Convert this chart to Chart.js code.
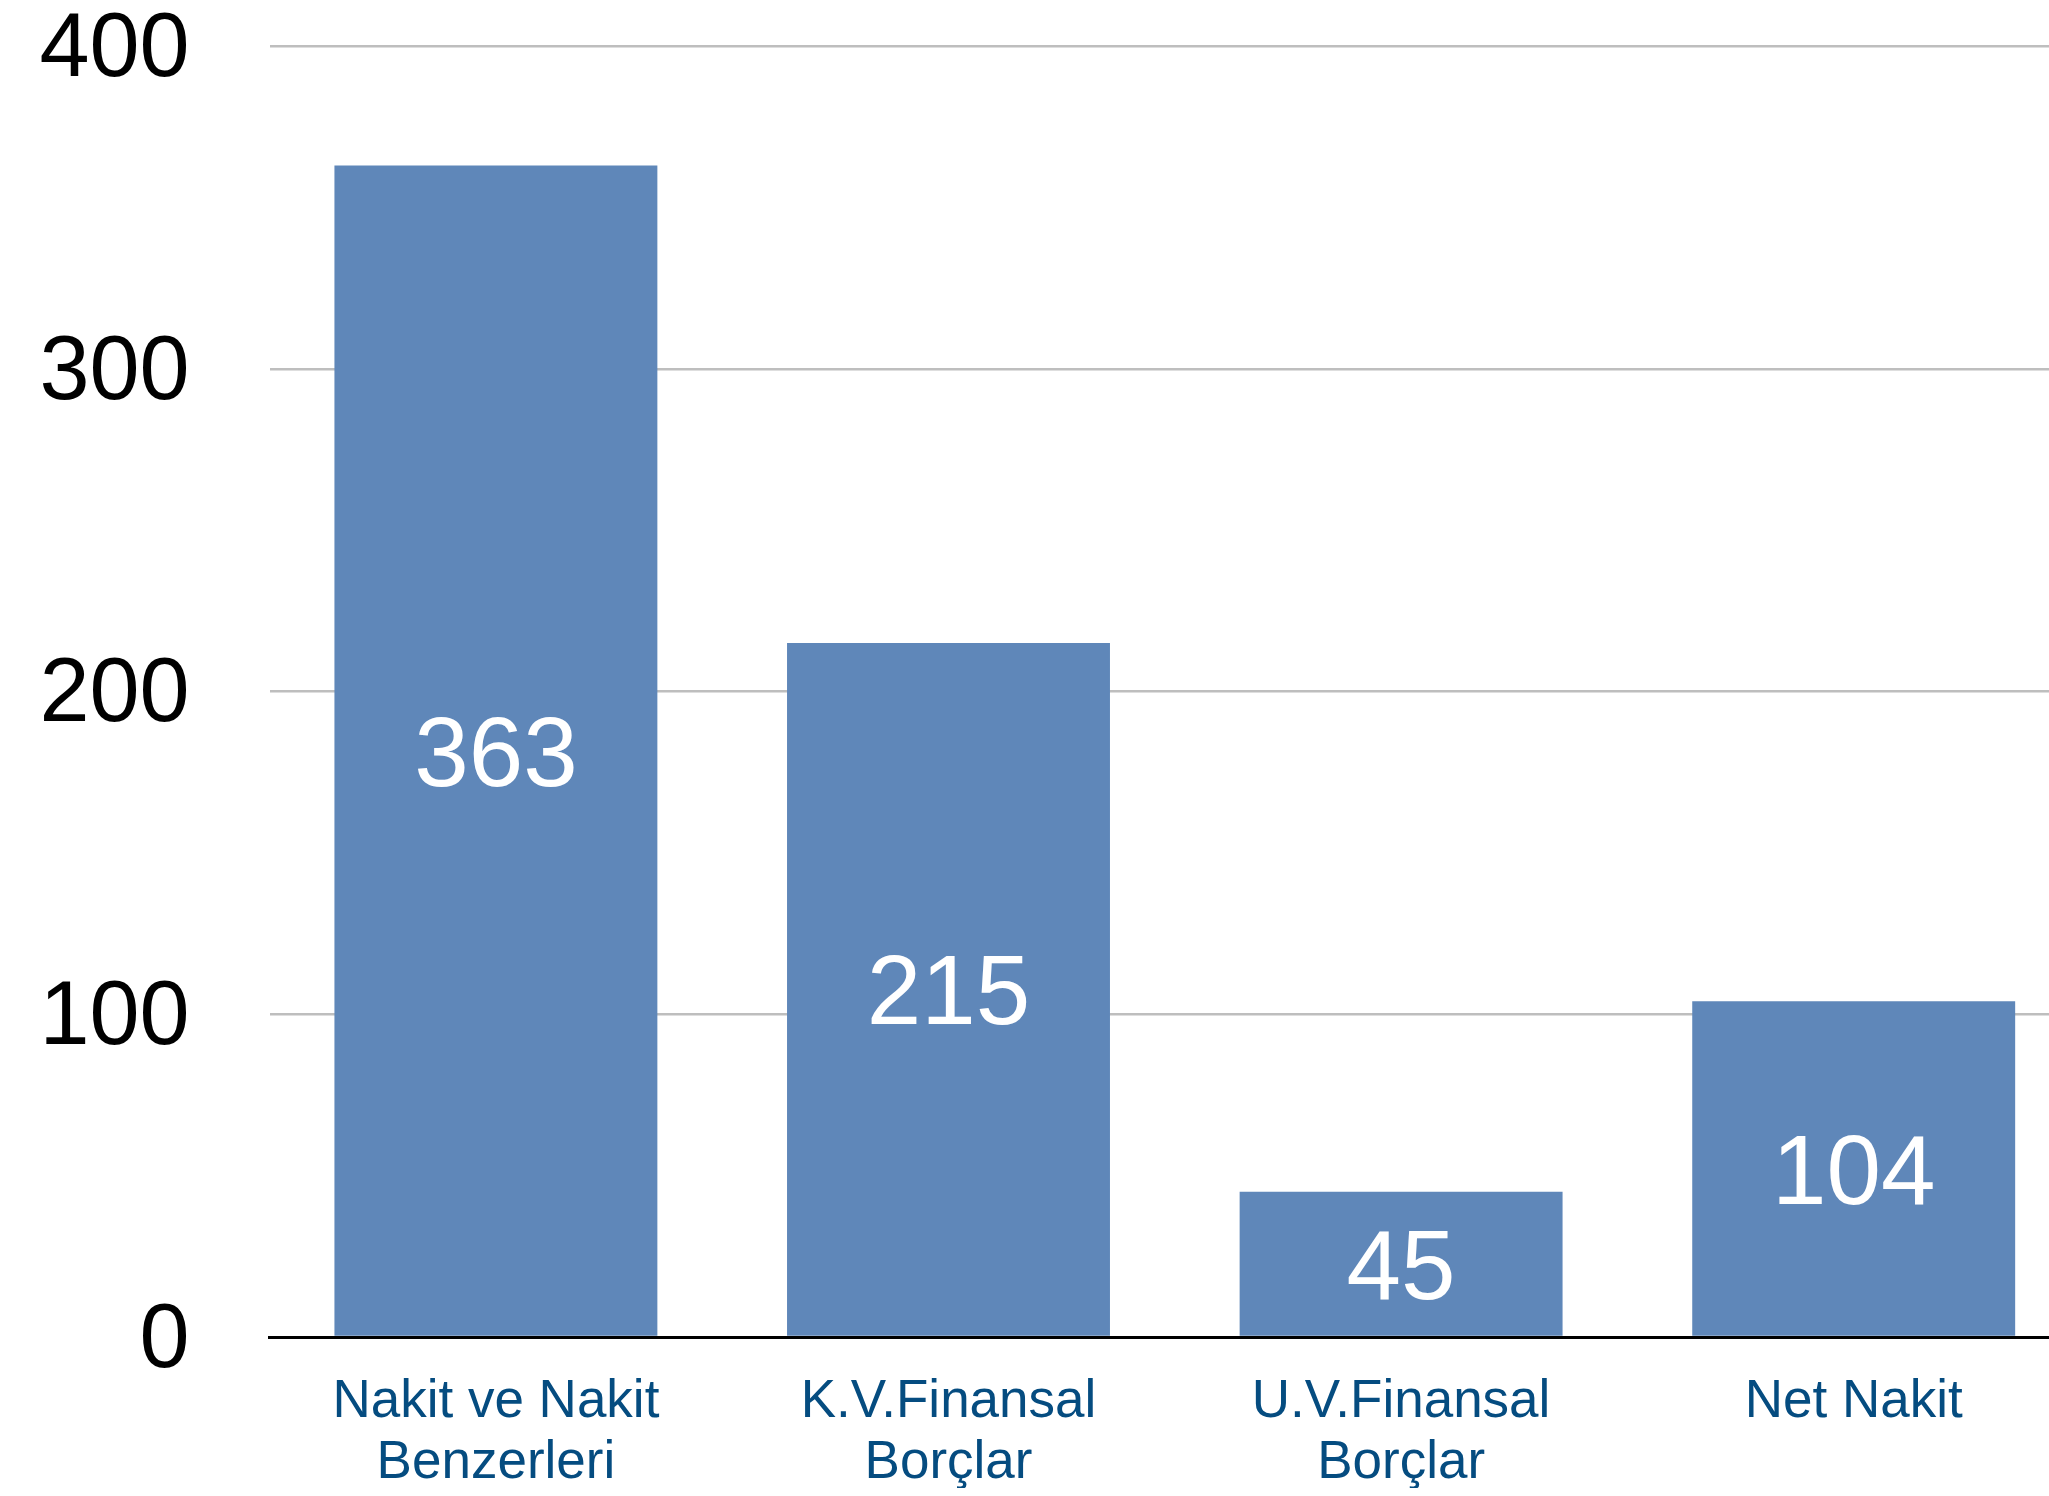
<!DOCTYPE html>
<html>
<head>
<meta charset="utf-8">
<script src="https://cdn.jsdelivr.net/npm/chart.js@4.4.1/dist/chart.umd.min.js"></script>
<style>
  html, body { margin: 0; padding: 0; background: #ffffff; overflow: hidden; width: 2049px; height: 1496px; }
  #wrap { position: absolute; left: 0; top: 0; width: 2081px; height: 1496px; }
</style>
</head>
<body>
<div id="wrap"><canvas id="c" width="2081" height="1496"></canvas></div>
<script>
const categories = [["Nakit ve Nakit", "Benzerleri"], ["K.V.Finansal", "Borçlar"], ["U.V.Finansal", "Borçlar"], "Net Nakit"];
const values = [363, 215, 45, 104];
const valueLabels = ["363", "215", "45", "104"];
const yTicks = [0, 100, 200, 300, 400];

const FONT = "'Liberation Sans', Arial, Helvetica, sans-serif";

const centerLabels = {
  id: 'centerLabels',
  afterDatasetsDraw(chart) {
    const ctx = chart.ctx;
    const meta = chart.getDatasetMeta(0);
    ctx.save();
    ctx.fillStyle = '#ffffff';
    ctx.font = '98px ' + FONT;
    ctx.textAlign = 'center';
    ctx.textBaseline = 'middle';
    meta.data.forEach((bar, i) => {
      const p = bar.getProps(['x', 'y', 'base'], true);
      ctx.fillText(valueLabels[i], p.x, (p.y + p.base) / 2 + 8);
    });
    ctx.restore();
  }
};

new Chart(document.getElementById('c'), {
  type: 'bar',
  data: {
    labels: categories,
    datasets: [{
      data: values,
      backgroundColor: '#5F87B9',
      borderWidth: 0,
      categoryPercentage: 1.0,
      barPercentage: 0.7135
    }]
  },
  options: {
    responsive: false,
    animation: false,
    devicePixelRatio: 1,
    layout: { padding: { left: 40, top: 46, right: 1, bottom: 8 } },
    plugins: { legend: { display: false }, tooltip: { enabled: false } },
    scales: {
      x: {
        grid: { display: false, drawTicks: false },
        border: { display: true, color: '#000000', width: 3 },
        ticks: {
          color: '#054C80',
          font: { family: FONT, size: 53, lineHeight: 1.15 },
          padding: 35,
          maxRotation: 0,
          autoSkip: false
        },
        afterFit(scale) {
          scale.height = 151;
          scale.paddingLeft = 0;
          scale.paddingRight = 0;
        }
      },
      y: {
        min: 0,
        max: 400,
        afterBuildTicks(scale) { scale.ticks = yTicks.map(v => ({ value: v })); },
        grid: { color: '#BEBEBE', lineWidth: 2.5, drawTicks: false },
        border: { display: false },
        ticks: {
          color: '#000000',
          font: { family: FONT, size: 90, lineHeight: 1.0 },
          padding: 80,
          labelOffset: 5
        },
        afterFit(scale) {
          scale.width = 229.6;
          scale.paddingTop = 0;
          scale.paddingBottom = 0;
        }
      }
    }
  },
  plugins: [centerLabels]
});
</script>
</body>
</html>
